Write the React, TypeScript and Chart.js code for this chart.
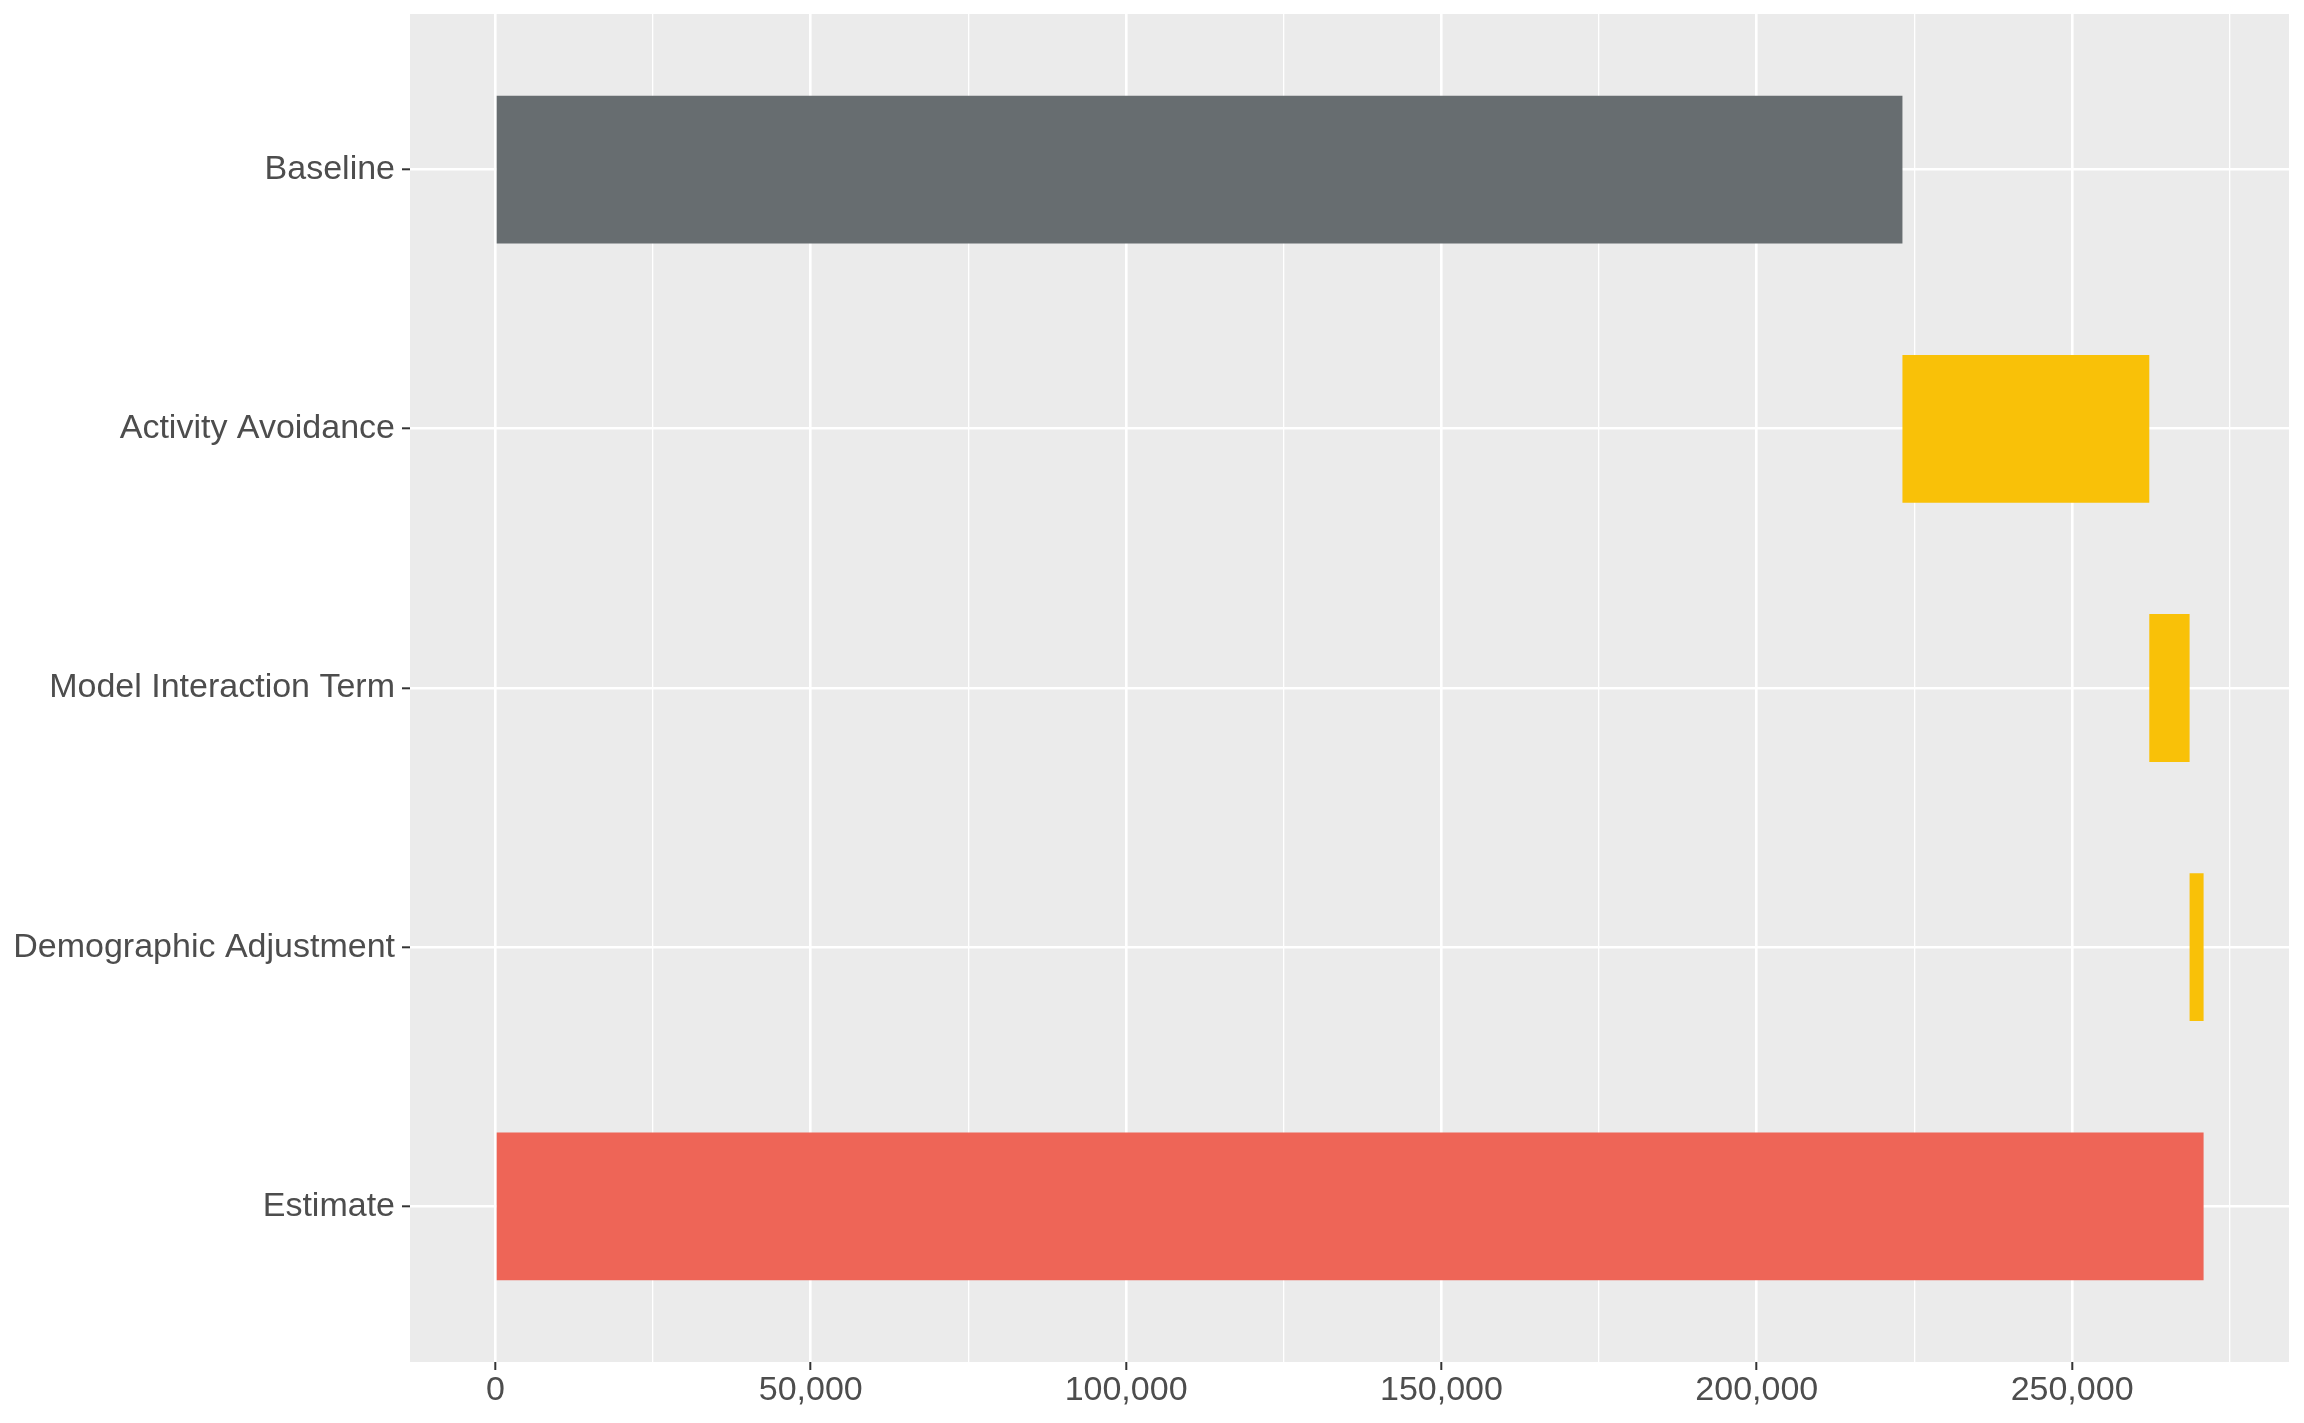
import React, { useEffect, useRef } from 'react';
import Chart from 'chart.js/auto';

// waterfall steps
const categories = ['Baseline', 'Activity Avoidance', 'Model Interaction Term', 'Demographic Adjustment', 'Estimate'];
const baseline = 223100;
const adjustments = [39140, 6390, 2220]; // Activity Avoidance, Model Interaction Term, Demographic Adjustment
const estimate = 270850;

const xMajorTicks = [0, 50000, 100000, 150000, 200000, 250000];
const xMinorTicks = [25000, 75000, 125000, 175000, 225000, 275000];

const barColors = ['#676D70', '#F9C108', '#F9C108', '#F9C108', '#EE6557'];

const FONT = "'Liberation Sans', Arial, Helvetica, sans-serif";

const panelBackground = {
  id: 'panelBackground',
  beforeDraw(chart: any) {
    const { ctx, chartArea } = chart;
    ctx.save();
    ctx.fillStyle = '#EBEBEB';
    ctx.fillRect(chartArea.left, chartArea.top, chartArea.right - chartArea.left, chartArea.bottom - chartArea.top);
    ctx.restore();
  },
};

const App: React.FC = () => {
  const canvasRef = useRef<HTMLCanvasElement | null>(null);

  useEffect(() => {
    document.body.style.margin = '0';
    if (!canvasRef.current) return;
    const ctx = canvasRef.current.getContext('2d');
    if (!ctx) return;

    // build floating bars [start, end]
    const ranges: [number, number][] = [[0, baseline]];
    let running = baseline;
    adjustments.forEach((a) => {
      ranges.push([running, running + a]);
      running += a;
    });
    ranges.push([0, estimate]);
    const data = ranges.map((r, i) => ({ x: r, y: i + 1 }));

    // ggplot-style 5% expansion
    const span = estimate;
    const xMin = -0.05 * span;
    const xMax = estimate + 0.05 * span;
    const xTicks = [...xMajorTicks, ...xMinorTicks].sort((a, b) => a - b);
    const isMajor = (v: number) => xMajorTicks.includes(v);

    const chart = new Chart(ctx, {
      type: 'bar',
      data: {
        datasets: [
          {
            data: data as any,
            backgroundColor: barColors,
            borderWidth: 0,
            categoryPercentage: 1,
            barPercentage: 0.57,
          },
        ],
      },
      options: {
        indexAxis: 'y',
        animation: false,
        responsive: true,
        maintainAspectRatio: false,
        layout: { padding: { top: 14, right: 15, left: 0, bottom: 0 } },
        plugins: {
          legend: { display: false },
          tooltip: { enabled: false },
        },
        scales: {
          x: {
            type: 'linear',
            min: xMin,
            max: xMax,
            afterBuildTicks: (axis: any) => {
              axis.ticks = xTicks.map((v) => ({ value: v }));
            },
            afterFit: (axis: any) => {
              axis.height = 61;
              axis.paddingLeft = 0;
              axis.paddingRight = 0;
            },
            border: { display: false },
            grid: {
              color: '#FFFFFF',
              lineWidth: (c: any) => (isMajor(c.tick?.value) ? 2.6 : 1.3),
              tickColor: (c: any) => (isMajor(c.tick?.value) ? '#333333' : 'rgba(0,0,0,0)'),
              tickWidth: 2,
              tickLength: 8,
              drawTicks: true,
            },
            ticks: {
              autoSkip: false,
              maxRotation: 0,
              padding: 0,
              color: '#4D4D4D',
              font: { family: FONT, size: 34 },
              callback: (v: any) => (isMajor(Number(v)) ? Number(v).toLocaleString('en-US') : ''),
            },
          },
          y: {
            type: 'linear',
            min: 0.4,
            max: 5.6,
            reverse: true,
            offset: false,
            afterBuildTicks: (axis: any) => {
              axis.ticks = categories.map((_, i) => ({ value: i + 1 }));
            },
            afterFit: (axis: any) => {
              axis.width = 410;
              axis.paddingTop = 0;
              axis.paddingBottom = 0;
            },
            border: { display: false },
            grid: {
              offset: false,
              color: '#FFFFFF',
              lineWidth: 2.6,
              tickColor: '#333333',
              tickWidth: 2,
              tickLength: 8,
            },
            ticks: {
              autoSkip: false,
              padding: 7,
              color: '#4D4D4D',
              font: { family: FONT, size: 34 },
              callback: (v: any) => categories[Number(v) - 1] ?? '',
            },
          },
        },
      },
      plugins: [panelBackground],
    });

    return () => {
      chart.destroy();
    };
  }, []);

  return (
    <div style={{ position: 'fixed', left: 0, top: 0, width: '100vw', height: '100vh', background: '#FFFFFF' }}>
      <canvas ref={canvasRef} />
    </div>
  );
};

export default App;
